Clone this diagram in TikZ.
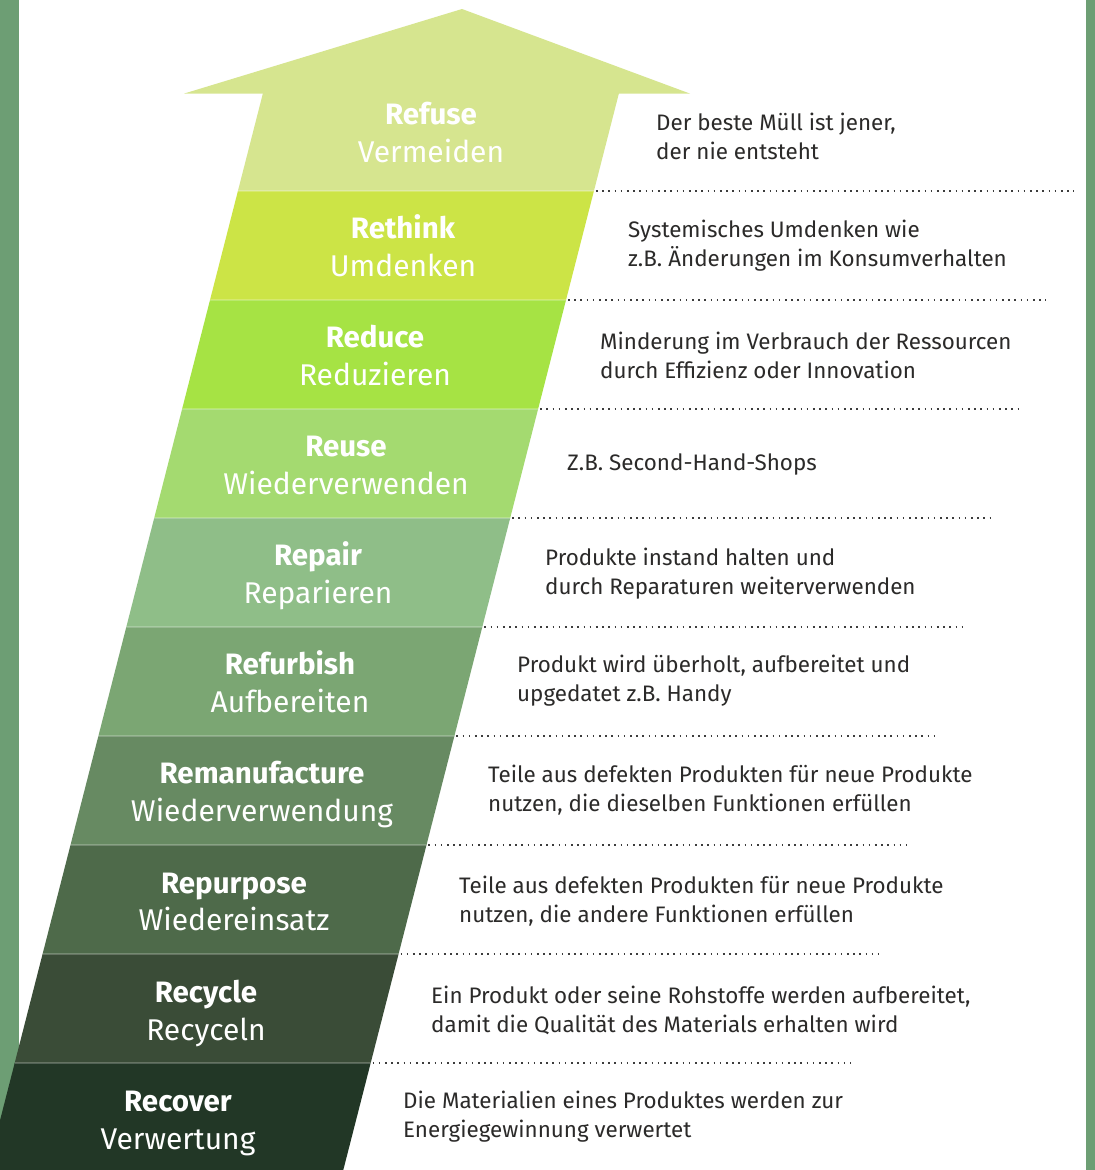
\documentclass[tikz,border=0pt]{standalone}
\usepackage{fontspec}
\setmainfont{Fira Sans}
\usetikzlibrary{calc}
\definecolor{frame}{HTML}{6D9E74}
\definecolor{c1}{HTML}{D6E58F}
\definecolor{c2}{HTML}{CCE446}
\definecolor{c3}{HTML}{A6E344}
\definecolor{c4}{HTML}{A4DA70}
\definecolor{c5}{HTML}{8FBE88}
\definecolor{c6}{HTML}{7BA673}
\definecolor{c7}{HTML}{678A62}
\definecolor{c8}{HTML}{4E6A4A}
\definecolor{c9}{HTML}{3A4C37}
\definecolor{c10}{HTML}{223726}
\definecolor{txt}{HTML}{2B2A29}
\definecolor{dots}{HTML}{3C3C3C}
\tikzset{
  boldlabel/.style={anchor=base, text=white, inner sep=0pt, font=\fontsize{29.5}{34}\selectfont\bfseries},
  reglabel/.style={anchor=base, text=white, inner sep=0pt, font=\fontsize{30}{34}\selectfont},
  desc/.style={anchor=west, align=left, text=txt, inner sep=0pt, font=\fontsize{22.4}{29}\selectfont},
  dotline/.style={dots, line width=1.6pt, dash pattern=on 1.6pt off 4.6pt},
  seam/.style={white, opacity=0.22, line width=1.2pt}
}

\begin{document}

\begin{tikzpicture}[x=1pt,y=-1pt]
\useasboundingbox (0,0) rectangle (1095,1170);
\fill[white] (0,0) rectangle (1095,1170);
\fill[frame] (0,0) rectangle (19,1170);
\fill[frame] (1086,0) rectangle (1095,1170);
% bands
\foreach \i/\yt/\yb in {1/93/191,2/191/300,3/300/409,4/409/518,5/518/627,6/627/736,7/736/845,8/845/954,9/954/1063,10/1063/1172}{
  \fill[c\i] ({263-0.256*(\yt-93)},\yt) -- ({619-0.256*(\yt-93)},\yt)
     -- ({619-0.256*(\yb-93)},\yb) -- ({263-0.256*(\yb-93)},\yb) -- cycle;
}
% arrow head
\fill[c1] (184,93.6) -- (462,9) -- (690,93.6) -- cycle;
% seams and dotted separators
\foreach \i/\y in {1/191,2/300,3/409,4/518,5/627,6/736,7/845,8/954,9/1063}{
  \draw[seam] ({263-0.256*(\y-93)},\y) -- ({619-0.256*(\y-93)},\y);
  \coordinate (dl\i) at ({621-0.256*(\y-93)},\y);
  \coordinate (dr\i) at ({1099-0.256*(\y-93)},\y);
  \draw[dotline] (dl\i) -- (dr\i);
}
% labels
\foreach \i/\lx/\by/\ry/\bt/\rt in {
  1/431/124/162.5/Refuse/Vermeiden,
  2/403/238/276.5/Rethink/Umdenken,
  3/375/347/385.5/Reduce/Reduzieren,
  4/346/456/494.5/Reuse/Wiederverwenden,
  5/318/565/603.5/Repair/Reparieren,
  6/290/674/712.5/Refurbish/Aufbereiten,
  7/262/783/821.5/Remanufacture/Wiederverwendung,
  8/234/893/930.5/Repurpose/Wiedereinsatz,
  9/206/1002/1040.5/Recycle/Recyceln,
  10/178/1111/1149.5/Recover/Verwertung}{
  \node[boldlabel] (b\i) at (\lx,\by) {\bt};
  \node[reglabel] (r\i) at (\lx,\ry) {\rt};
}
% descriptions
\node[desc] (d1) at (656,136.5) {Der beste Müll ist jener,\\der nie entsteht};
\node[desc] (d2) at (628,246) {Systemisches Umdenken wie\\z.B. Änderungen im Konsumverhalten};
\node[desc] (d3) at (600,355.5) {Minderung im Verbrauch der Ressourcen\\durch Effizienz oder Innovation};
\node[desc] (d4) at (567,464) {Z.B. Second-Hand-Shops};
\node[desc] (d5) at (545,573.5) {Produkte instand halten und\\durch Reparaturen weiterverwenden};
\node[desc] (d6) at (517,680.5) {Produkt wird überholt, aufbereitet und\\upgedatet z.B. Handy};
\node[desc] (d7) at (488,790.5) {Teile aus defekten Produkten für neue Produkte\\nutzen, die dieselben Funktionen erfüllen};
\node[desc] (d8) at (459,901) {Teile aus defekten Produkten für neue Produkte\\nutzen, die andere Funktionen erfüllen};
\node[desc] (d9) at (431,1010.5) {Ein Produkt oder seine Rohstoffe werden aufbereitet,\\damit die Qualität des Materials erhalten wird};
\node[desc] (d10) at (403,1116.5) {Die Materialien eines Produktes werden zur\\Energiegewinnung verwertet};
\end{tikzpicture}

\end{document}
